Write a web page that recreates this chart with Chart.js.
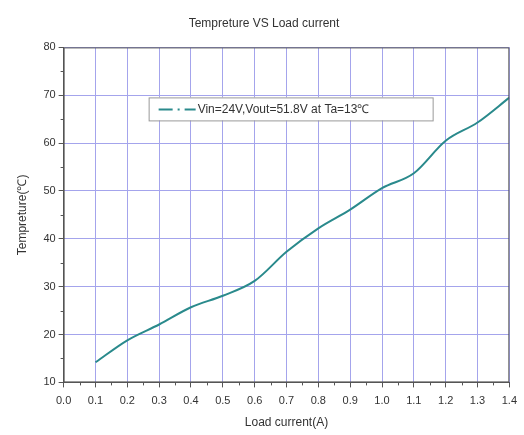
<!DOCTYPE html>
<html>
<head>
<meta charset="utf-8">
<script src="https://cdn.jsdelivr.net/npm/chart.js@4.4.0/dist/chart.umd.min.js"></script>
<style>
  html, body { margin: 0; padding: 0; background: #fff; }
  #wrap { width: 524px; height: 435px; }
</style>
</head>
<body>
<div id="wrap"><canvas id="chart" width="524" height="435"></canvas></div>
<script>
// load current (A) and measured temperature (℃)
const loadCurrent = [0.1, 0.2, 0.3, 0.4, 0.5, 0.6, 0.7, 0.8, 0.9, 1.0, 1.1, 1.2, 1.3, 1.4];
const temperature = [14.2, 18.8, 22.1, 25.7, 28.1, 31.2, 37.3, 42.2, 46.1, 50.6, 53.7, 60.5, 64.3, 69.5];
const seriesLabel = "Vin=24V,Vout=51.8V at Ta=13℃";

const lineColor = "#2a8a8c";
const gridColor = "#a4a4ec";
const axisColor = "#555";
const textColor = "#333";
const fontFamily = "'Liberation Sans', Arial, sans-serif";

// frame, minor ticks and the in-plot legend box
const extras = {
  id: "extras",
  afterDraw(chart) {
    const { ctx, chartArea: a, scales } = chart;
    ctx.save();
    ctx.strokeStyle = axisColor;
    ctx.lineWidth = 1;
    ctx.strokeRect(a.left + 0.5, a.top + 0.5, a.right - a.left - 1, a.bottom - a.top - 1);

    // minor ticks
    ctx.beginPath();
    for (let v = 0.05; v < 1.4; v += 0.1) {
      const x = Math.round(scales.x.getPixelForValue(v)) + 0.5;
      ctx.moveTo(x, a.bottom);
      ctx.lineTo(x, a.bottom + 3);
    }
    for (let v = 15; v < 80; v += 10) {
      const y = Math.round(scales.y.getPixelForValue(v)) + 0.5;
      ctx.moveTo(a.left, y);
      ctx.lineTo(a.left - 3, y);
    }
    ctx.stroke();

    // legend
    const bx = a.left + 85, by = a.top + 50, bw = 284, bh = 23;
    ctx.fillStyle = "#fff";
    ctx.fillRect(bx, by, bw, bh);
    ctx.strokeStyle = "#999";
    ctx.strokeRect(bx + 0.5, by + 0.5, bw, bh);
    ctx.strokeStyle = lineColor;
    ctx.lineWidth = 2;
    ctx.setLineDash([14, 5, 2, 5]);
    ctx.beginPath();
    ctx.moveTo(bx + 10, by + bh / 2 + 0.5);
    ctx.lineTo(bx + 47, by + bh / 2 + 0.5);
    ctx.stroke();
    ctx.setLineDash([]);
    ctx.fillStyle = textColor;
    ctx.font = "12px " + fontFamily;
    ctx.textBaseline = "middle";
    ctx.fillText(seriesLabel, bx + 49, by + bh / 2 + 1);
    ctx.restore();
  }
};

new Chart(document.getElementById("chart"), {
  type: "line",
  data: {
    datasets: [{
      label: seriesLabel,
      data: loadCurrent.map((x, i) => ({ x: x, y: temperature[i] })),
      borderColor: lineColor,
      borderWidth: 2,
      pointRadius: 0,
      cubicInterpolationMode: "monotone",
      fill: false
    }]
  },
  options: {
    responsive: false,
    animation: false,
    layout: { padding: { left: 15, right: 11, top: 0, bottom: 5 } },
    plugins: {
      legend: { display: false },
      tooltip: { enabled: false },
      title: {
        display: true,
        text: "Tempreture VS Load current",
        color: textColor,
        font: { family: fontFamily, size: 12, weight: "normal" },
        padding: { top: 16, bottom: 17 }
      }
    },
    scales: {
      x: {
        type: "linear",
        min: 0,
        max: 1.4,
        ticks: {
          stepSize: 0.1,
          color: textColor,
          font: { family: fontFamily, size: 11 },
          padding: 7,
          maxRotation: 0,
          callback: v => v.toFixed(1)
        },
        grid: { color: gridColor, tickColor: axisColor, tickLength: 5 },
        border: { color: axisColor },
        title: {
          display: true,
          text: "Load current(A)",
          color: textColor,
          font: { family: fontFamily, size: 12 },
          padding: { top: 1, bottom: 0 }
        }
      },
      y: {
        min: 10,
        max: 80,
        ticks: {
          stepSize: 10,
          color: textColor,
          font: { family: fontFamily, size: 11 },
          padding: 3
        },
        grid: { color: gridColor, tickColor: axisColor, tickLength: 5 },
        border: { color: axisColor },
        title: {
          display: true,
          text: "Tempreture(℃)",
          color: textColor,
          font: { family: fontFamily, size: 12 },
          padding: { top: 0, bottom: 11 }
        }
      }
    }
  },
  plugins: [extras]
});
</script>
</body>
</html>
